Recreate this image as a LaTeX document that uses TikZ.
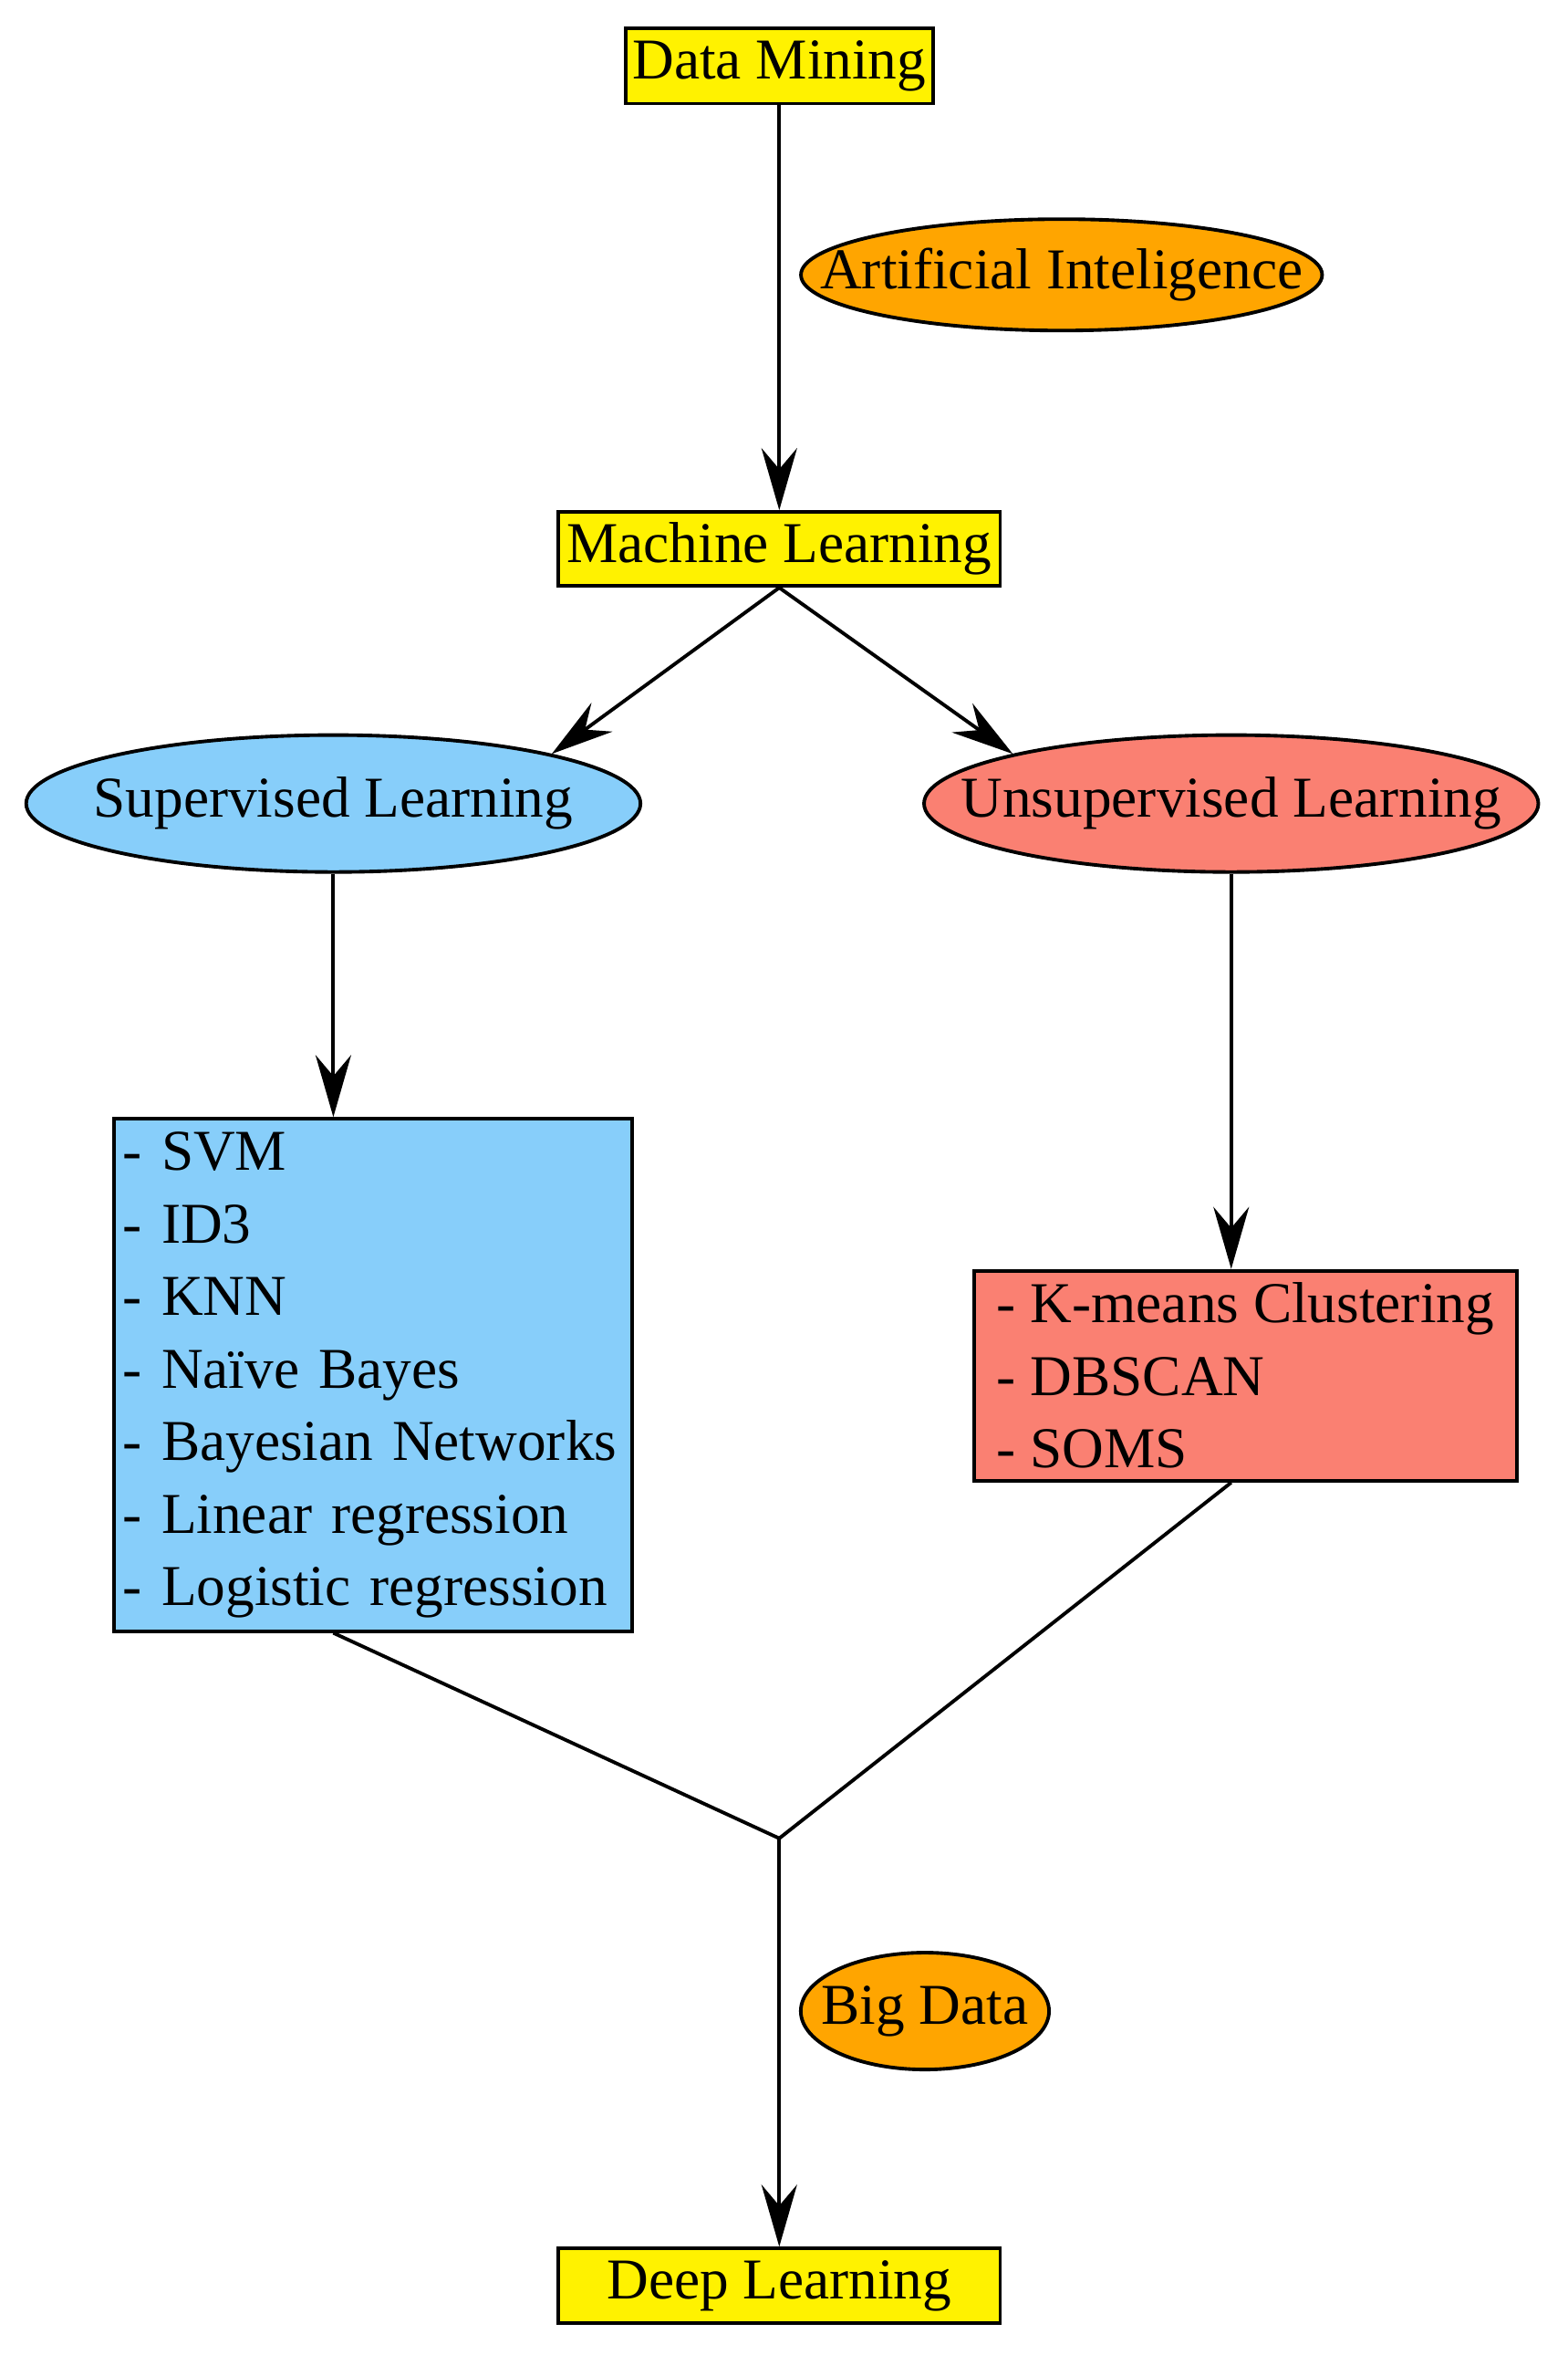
\documentclass[tikz,border=0pt]{standalone}
\usepackage{fontspec}
\setmainfont{Liberation Serif}
\usepackage{tikz}
\usetikzlibrary{shapes.geometric,arrows.meta}

\definecolor{lightskyblue}{HTML}{87CEFA}
\definecolor{salmon}{HTML}{FA8072}
\definecolor{gvorange}{HTML}{FFA500}

\begin{document}
\begin{tikzpicture}[x=0.016456cm, y=-0.016456cm, line width=1.1pt,
    font=\fontsize{18}{22.6}\selectfont,
    box/.style={rectangle, draw, inner sep=0pt},
    oval/.style={ellipse, draw, inner sep=0pt},
    arr/.style={-{Stealth[length=0.68cm, width=0.39cm, inset=0.23cm]}}]
                \useasboundingbox (0,0) rectangle (1044,1568);

                % Nodes
                \node[box, fill=yellow, minimum width=3.37cm, minimum height=0.82cm] (dm) at (519,44) {Data Mining};
                \node[oval, fill=gvorange, minimum width=5.71cm, minimum height=1.22cm] (ai) at (707,183) {\makebox[0pt]{Artificial Inteligence}};
                \node[box, fill=yellow, minimum width=4.84cm, minimum height=0.81cm] (ml) at (519,365.5) {Machine Learning};
                \node[oval, fill=lightskyblue, minimum width=6.73cm, minimum height=1.50cm] (sup) at (222,535) {\makebox[0pt]{Supervised Learning}};
                \node[oval, fill=salmon, minimum width=6.73cm, minimum height=1.50cm] (unsup) at (820,535) {\makebox[0pt]{Unsupervised Learning}};
                \node[box, fill=lightskyblue, minimum width=5.68cm, minimum height=5.61cm, inner xsep=0.1cm, text width=5.48cm, align=left] (svm) at (248.5,915.5)
                    {- SVM\\- ID3\\- KNN\\- Naïve Bayes\\- Bayesian Networks\\- Linear regression\\- Logistic regression};
                \node[box, fill=salmon, minimum width=5.94cm, minimum height=2.30cm, align=left] (kmeans) at (829.5,916)
                    {- K-means Clustering\\- DBSCAN\\- SOMS};
                \coordinate (junc) at (519,1224);
                \node[oval, fill=gvorange, minimum width=2.72cm, minimum height=1.28cm] (bd) at (616,1339) {\makebox[0pt]{Big Data}};
                \node[box, fill=yellow, minimum width=4.84cm, minimum height=0.82cm] (dl) at (519,1522) {Deep Learning};

                % Edges
                \draw[arr] (dm.south) -- (ml.north);
                \draw[arr] (ml.south) -- (sup.north east);
                \draw[arr] (ml.south) -- (unsup.north west);
                \draw[arr] (sup.south) -- (sup.south |- svm.north);
                \draw[arr] (unsup.south) -- (unsup.south |- kmeans.north);
                \draw (sup.south |- svm.south) -- (junc);
                \draw (unsup.south |- kmeans.south) -- (junc);
                \draw[arr] (junc) -- (dl.north);
            \end{tikzpicture}
\end{document}
